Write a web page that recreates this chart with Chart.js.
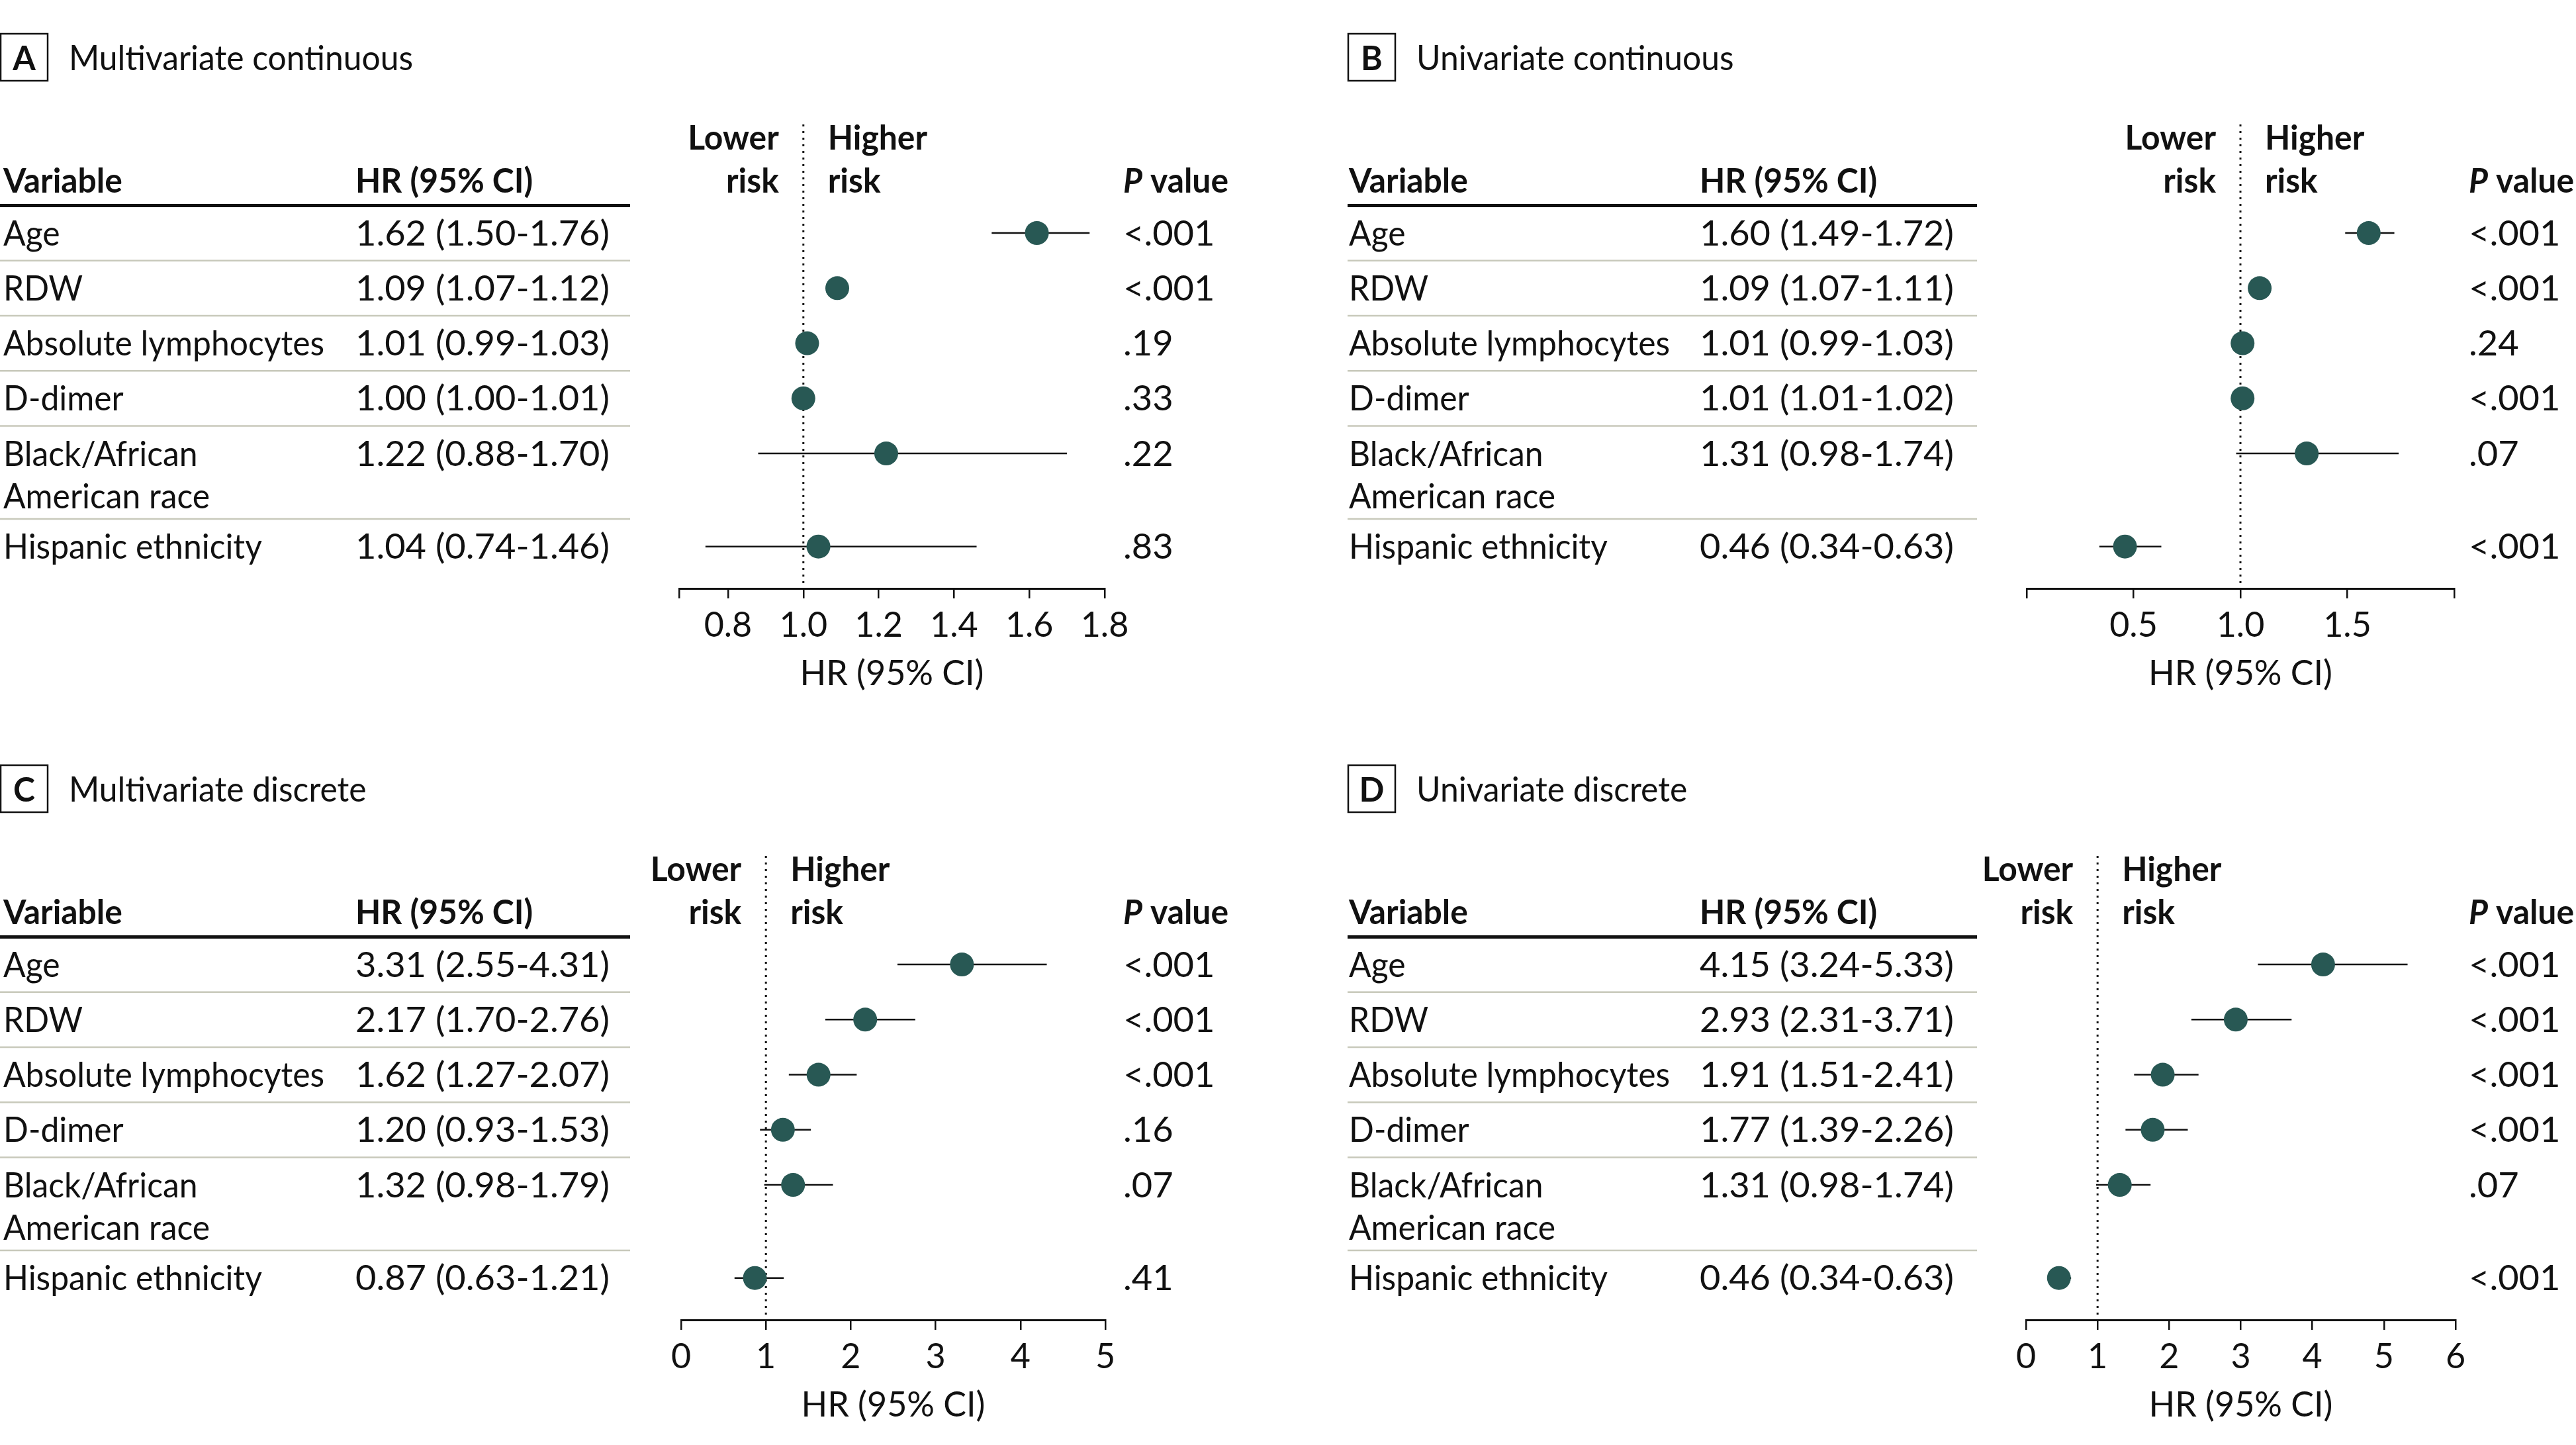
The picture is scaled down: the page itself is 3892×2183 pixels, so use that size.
<!DOCTYPE html>
<html>
<head>
<meta charset="utf-8">
<script src="https://cdn.jsdelivr.net/npm/chart.js@4.4.1/dist/chart.umd.min.js"></script>
<style>
  html, body { margin: 0; padding: 0; background: #fff; }
  #wrap { position: relative; width: 3892px; height: 2183px; overflow: hidden; }
  .panel { position: absolute; }
</style>
</head>
<body>
<div id="wrap">
  <div class="panel" id="boxA"><canvas id="chartA"></canvas></div>
  <div class="panel" id="boxB"><canvas id="chartB"></canvas></div>
  <div class="panel" id="boxC"><canvas id="chartC"></canvas></div>
  <div class="panel" id="boxD"><canvas id="chartD"></canvas></div>
</div>
<script>
// rows (a second entry means the label wraps to a second line)
var variables = [['Age'], ['RDW'], ['Absolute lymphocytes'], ['D-dimer'], ['Black/African', 'American race'], ['Hispanic ethnicity']];

// A - multivariate continuous
var hrA = [1.62, 1.09, 1.01, 1.00, 1.22, 1.04];
var loA = [1.50, 1.07, 0.99, 1.00, 0.88, 0.74];
var hiA = [1.76, 1.12, 1.03, 1.01, 1.70, 1.46];
var pA = ['<.001', '<.001', '.19', '.33', '.22', '.83'];
var ticksA = [0.67, 0.8, 1.0, 1.2, 1.4, 1.6, 1.8];
var tickLabelsA = ['', '0.8', '1.0', '1.2', '1.4', '1.6', '1.8'];

// B - univariate continuous
var hrB = [1.60, 1.09, 1.01, 1.01, 1.31, 0.46];
var loB = [1.49, 1.07, 0.99, 1.01, 0.98, 0.34];
var hiB = [1.72, 1.11, 1.03, 1.02, 1.74, 0.63];
var pB = ['<.001', '<.001', '.24', '<.001', '.07', '<.001'];
var ticksB = [0, 0.5, 1.0, 1.5, 2.0];
var tickLabelsB = ['', '0.5', '1.0', '1.5', ''];

// C - multivariate discrete
var hrC = [3.31, 2.17, 1.62, 1.20, 1.32, 0.87];
var loC = [2.55, 1.70, 1.27, 0.93, 0.98, 0.63];
var hiC = [4.31, 2.76, 2.07, 1.53, 1.79, 1.21];
var pC = ['<.001', '<.001', '<.001', '.16', '.07', '.41'];
var ticksC = [0, 1, 2, 3, 4, 5];
var tickLabelsC = ['0', '1', '2', '3', '4', '5'];

// D - univariate discrete
var hrD = [4.15, 2.93, 1.91, 1.77, 1.31, 0.46];
var loD = [3.24, 2.31, 1.51, 1.39, 0.98, 0.34];
var hiD = [5.33, 3.71, 2.41, 2.26, 1.74, 0.63];
var pD = ['<.001', '<.001', '<.001', '<.001', '.07', '<.001'];
var ticksD = [0, 1, 2, 3, 4, 5, 6];
var tickLabelsD = ['0', '1', '2', '3', '4', '5', '6'];

var INK = '#111';
var DOT = '#285854';
var RULE = '#c8c9bb';
var FONT = 'Lato, "Open Sans", sans-serif';
var SIZE = 52;
var CAP = 0.72 * SIZE;

// vertical layout, in row units (1 = one single-line row)
var Y_TOP = -1.97, Y_HEAD = -0.96, Y_LOWER = -1.74, LINE2 = 0.77, EXTRA = 0.69, Y_PAD = 0.26;
var AXIS_Y = 889, AXIS_H = 180;

// horizontal stretch so text takes the width of the original typeface
function fitScale(sample, target) {
  var c = document.createElement('canvas').getContext('2d');
  c.font = SIZE + 'px ' + FONT;
  var w = c.measureText(sample).width;
  return Math.max(0.8, Math.min(1.2, target / w));
}
var SX = fitScale('Absolute lymphocytes', 485);
var SX_NUM = fitScale('1.62 (1.50-1.76)', 384);

function rowLayout(vars) {
  var pos = [], tops = [], t = -0.5;
  vars.forEach(function (v) {
    tops.push(t);
    pos.push(t + 0.5);
    t += 1 + (v.length - 1) * EXTRA;
  });
  return { pos: pos, tops: tops, bottom: t };
}

function txt(ctx, s, x, yc, weight, style, align, sx) {
  ctx.save();
  ctx.font = (style || '') + ' ' + (weight || 'normal') + ' ' + SIZE + 'px ' + FONT;
  ctx.fillStyle = INK;
  ctx.textBaseline = 'alphabetic';
  ctx.textAlign = align || 'left';
  ctx.translate(x, yc + CAP / 2);
  ctx.scale(sx || SX, 1);
  ctx.fillText(s, 0, 0);
  var w = ctx.measureText(s).width * (sx || SX);
  ctx.restore();
  return w;
}

var tablePlugin = {
  id: 'forestTable',
  afterDraw: function (chart) {
    var o = chart.options.plugins.forestTable;
    var ctx = chart.ctx, ys = chart.scales.y, xs = chart.scales.x;
    var rows = o.rows;
    var yp = function (u) { return ys.getPixelForValue(u); };

    // panel tag and title
    ctx.save();
    ctx.strokeStyle = INK;
    ctx.lineWidth = 2.5;
    ctx.strokeRect(o.tableL + 1, 51, 71, 71);
    ctx.restore();
    txt(ctx, o.tag, o.tableL + 36.5, 87, 'bold', '', 'center');
    txt(ctx, o.title, o.tableL + 104, 87);

    // header
    var hy = yp(Y_HEAD);
    txt(ctx, 'Variable', o.colVar, hy, 'bold');
    txt(ctx, 'HR (95% CI)', o.colHr, hy, 'bold');
    var pw = txt(ctx, 'P', o.colP, hy, 'bold', 'italic');
    txt(ctx, ' value', o.colP + pw, hy, 'bold');
    var x1 = xs.getPixelForValue(1);
    txt(ctx, 'Lower', x1 - 37, yp(Y_LOWER), 'bold', '', 'right');
    txt(ctx, 'risk', x1 - 37, hy, 'bold', '', 'right');
    txt(ctx, 'Higher', x1 + 37, yp(Y_LOWER), 'bold');
    txt(ctx, 'risk', x1 + 37, hy, 'bold');

    // rules
    ctx.save();
    ctx.strokeStyle = INK;
    ctx.lineWidth = 5;
    ctx.beginPath();
    ctx.moveTo(o.tableL, yp(rows.tops[0]));
    ctx.lineTo(o.tableR, yp(rows.tops[0]));
    ctx.stroke();
    ctx.strokeStyle = RULE;
    ctx.lineWidth = 2.5;
    for (var i = 1; i < rows.tops.length; i++) {
      ctx.beginPath();
      ctx.moveTo(o.tableL, yp(rows.tops[i]));
      ctx.lineTo(o.tableR, yp(rows.tops[i]));
      ctx.stroke();
    }
    ctx.restore();

    // body
    variables.forEach(function (v, i) {
      var y = yp(rows.pos[i]);
      v.forEach(function (line, k) { txt(ctx, line, o.colVar, yp(rows.pos[i] + k * LINE2)); });
      var s = o.hr[i].toFixed(2) + ' (' + o.lo[i].toFixed(2) + '-' + o.hi[i].toFixed(2) + ')';
      txt(ctx, s, o.colHr, y, 'normal', '', 'left', SX_NUM);
      txt(ctx, o.p[i], o.colP, y, 'normal', '', 'left', SX_NUM);
    });
  }
};

function makePanel(cfg) {
  var box = document.getElementById('box' + cfg.tag);
  box.style.left = cfg.left + 'px';
  box.style.top = cfg.top + 'px';
  box.style.width = cfg.w + 'px';
  box.style.height = cfg.h + 'px';

  var rows = rowLayout(variables);
  var yMax = rows.bottom + Y_PAD;

  var datasets = [{
    data: cfg.hr.map(function (v, i) { return { x: v, y: rows.pos[i] }; }),
    pointRadius: 18, pointHoverRadius: 18,
    backgroundColor: DOT, borderWidth: 0
  }];
  cfg.hr.forEach(function (v, i) {
    datasets.push({
      data: [{ x: cfg.lo[i], y: rows.pos[i] }, { x: cfg.hi[i], y: rows.pos[i] }],
      showLine: true, pointRadius: 0, borderColor: INK, borderWidth: 2.5
    });
  });
  datasets.push({
    data: [{ x: 1, y: Y_TOP }, { x: 1, y: yMax }],
    showLine: true, pointRadius: 0, borderColor: INK, borderWidth: 3,
    borderDash: [3, 7], clip: false
  });

  var tickVals = cfg.ticks, tickLbls = cfg.tickLabels;
  new Chart(document.getElementById('chart' + cfg.tag), {
    type: 'scatter',
    data: { datasets: datasets },
    plugins: [tablePlugin],
    options: {
      responsive: true,
      maintainAspectRatio: false,
      animation: false,
      events: [],
      layout: {
        padding: { left: cfg.plotL, right: cfg.w - cfg.plotR, top: 188, bottom: cfg.h - AXIS_Y - AXIS_H }
      },
      plugins: {
        legend: { display: false },
        tooltip: { enabled: false },
        forestTable: {
          tag: cfg.tag, title: cfg.title, rows: rows,
          hr: cfg.hr, lo: cfg.lo, hi: cfg.hi, p: cfg.p,
          tableL: cfg.tableL, tableR: cfg.tableR,
          colVar: cfg.colVar, colHr: cfg.colHr, colP: cfg.colP
        }
      },
      scales: {
        x: {
          type: 'linear',
          position: 'bottom',
          min: tickVals[0],
          max: tickVals[tickVals.length - 1],
          afterBuildTicks: function (scale) {
            scale.ticks = tickVals.map(function (v) { return { value: v }; });
          },
          afterFit: function (scale) { scale.height = AXIS_H; },
          grid: { drawOnChartArea: false, drawTicks: true, tickLength: 15, color: INK, lineWidth: 2.5 },
          border: { display: true, color: INK, width: 3 },
          ticks: {
            autoSkip: false, maxRotation: 0, padding: 10, color: INK,
            font: { family: FONT, size: SIZE },
            callback: function (v, i) { return tickLbls[i]; }
          },
          title: {
            display: true, text: 'HR (95% CI)', color: INK,
            font: { family: FONT, size: SIZE },
            padding: { top: 0, bottom: 20 }
          }
        },
        y: { type: 'linear', display: false, reverse: true, min: Y_TOP, max: yMax }
      }
    }
  });
}

makePanel({ tag: 'A', title: 'Multivariate continuous', hr: hrA, lo: loA, hi: hiA, p: pA, ticks: ticksA, tickLabels: tickLabelsA,
  left: 0, top: 0, w: 2032, h: 1105, plotL: 1026, plotR: 1669, tableL: 0, tableR: 952, colVar: 5, colHr: 537, colP: 1697 });
makePanel({ tag: 'B', title: 'Univariate continuous', hr: hrB, lo: loB, hi: hiB, p: pB, ticks: ticksB, tickLabels: tickLabelsB,
  left: 2032, top: 0, w: 1860, h: 1105, plotL: 1030, plotR: 1676, tableL: 4, tableR: 955, colVar: 6, colHr: 536, colP: 1698 });
makePanel({ tag: 'C', title: 'Multivariate discrete', hr: hrC, lo: loC, hi: hiC, p: pC, ticks: ticksC, tickLabels: tickLabelsC,
  left: 0, top: 1105, w: 2032, h: 1078, plotL: 1029, plotR: 1670, tableL: 0, tableR: 952, colVar: 5, colHr: 537, colP: 1697 });
makePanel({ tag: 'D', title: 'Univariate discrete', hr: hrD, lo: loD, hi: hiD, p: pD, ticks: ticksD, tickLabels: tickLabelsD,
  left: 2032, top: 1105, w: 1860, h: 1078, plotL: 1029, plotR: 1678, tableL: 4, tableR: 955, colVar: 6, colHr: 536, colP: 1698 });
</script>
</body>
</html>
